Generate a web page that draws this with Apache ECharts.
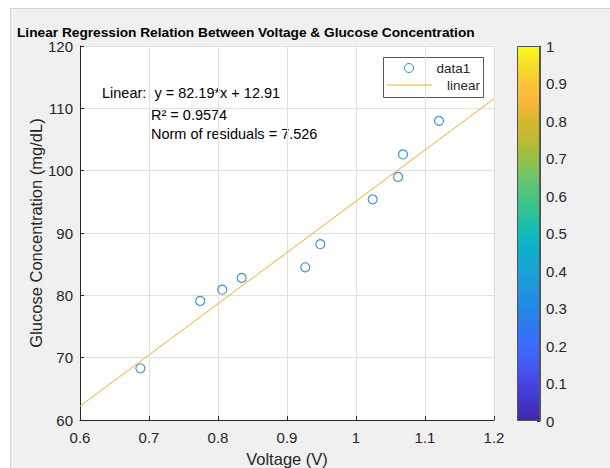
<!DOCTYPE html>
<html>
<head>
<meta charset="utf-8">
<script src="https://cdn.jsdelivr.net/npm/echarts@6/dist/echarts.min.js"></script>
<style>
  html, body { margin: 0; padding: 0; background: #ffffff; overflow: hidden; }
  #frame { position: absolute; left: 10px; top: 8px; width: 600px; height: 460px;
           background: #f0f0f0; border-left: 1px solid #d4d4d4; border-top: 1px solid #d4d4d4; }
  #chart { position: absolute; left: 0; top: 0; width: 610px; height: 468px; }
</style>
</head>
<body>
<div id="frame"></div>
<div id="chart"></div>
<script>
// ---- data ----
const voltage = [0.6875, 0.7742, 0.8062, 0.8343, 0.9265, 0.9483, 1.0242, 1.0609, 1.0681, 1.1203];
const glucose = [68.3, 79.1, 80.9, 82.8, 84.5, 88.2, 95.4, 99.0, 102.6, 108.0];
const fitX = [0.6, 1.2];
const fitY = [62.22, 111.54];
const colorbarTicks = [0, 0.1, 0.2, 0.3, 0.4, 0.5, 0.6, 0.7, 0.8, 0.9, 1];
const parulaStops = [
  [0.00, '#3d26a8'], [0.05, '#4236c8'], [0.10, '#4646e2'], [0.15, '#4559f2'],
  [0.20, '#3a6cfc'], [0.25, '#2e78f0'], [0.30, '#2486e5'], [0.35, '#2194de'],
  [0.40, '#1aa2d8'], [0.45, '#10adcb'], [0.50, '#0fbbba'], [0.55, '#2cc29c'],
  [0.60, '#48c57e'], [0.65, '#6dc56a'], [0.70, '#93c043'], [0.75, '#bdbb34'],
  [0.80, '#d4b82c'], [0.85, '#fbb53c'], [0.90, '#fac337'], [0.95, '#f6de26'],
  [1.00, '#f9fb15']
];
const titleText = 'Linear Regression Relation Between Voltage & Glucose Concentration';
const eqLines = ['Linear:  y = 82.19*x + 12.91', 'R\u00B2 = 0.9574', 'Norm of residuals = 7.526'];

const FONT = '"Liberation Sans", Arial, Helvetica, sans-serif';
const AX = '#262626';

const chart = echarts.init(document.getElementById('chart'), null, { renderer: 'svg' });
chart.setOption({
  backgroundColor: 'transparent',
  animation: false,
  textStyle: { fontFamily: FONT },
  title: {
    text: titleText, left: 17, top: 25, padding: 0,
    textStyle: { fontFamily: FONT, fontSize: 13.7, fontWeight: 'bold', color: '#000' }
  },
  legend: [
    {
      left: 404, top: 61, orient: 'vertical', padding: 0,
      itemWidth: 45, itemHeight: 9,
      itemStyle: { borderWidth: 1 },
      textStyle: { fontFamily: FONT, fontSize: 13.5, color: AX },
      data: ['data1']
    },
    {
      left: 387, top: 78, orient: 'vertical', padding: 0,
      itemWidth: 45, itemHeight: 1,
      textStyle: { fontFamily: FONT, fontSize: 13.5, color: AX, padding: [0, 0, 0, 10] },
      data: [{ name: 'linear', icon: 'rect' }]
    }
  ],
  grid: [
    { left: 80, right: 116, top: 46, bottom: 48, show: true, backgroundColor: '#fff', borderWidth: 0,
      outerBoundsMode: 'none', containLabel: false },
    { left: 517, width: 23, top: 46, height: 375, show: false, outerBoundsMode: 'none', containLabel: false }
  ],
  xAxis: [
    {
      gridIndex: 0, type: 'value', min: 0.6, max: 1.2, interval: 0.1,
      name: 'Voltage (V)', nameLocation: 'middle', nameGap: 30, nameMoveOverlap: false,
      nameTextStyle: { fontFamily: FONT, fontSize: 16.5, color: AX },
      axisLine: { show: true, onZero: false, lineStyle: { color: AX, width: 1 } },
      axisTick: { show: true, inside: true, length: 4, lineStyle: { color: AX } },
      axisLabel: { fontFamily: FONT, fontSize: 15, color: AX, margin: 10,
                   formatter: v => String(parseFloat(v.toFixed(2))) },
      splitLine: { show: true, lineStyle: { color: '#e0e0e0', width: 1 } }
    },
    {
      gridIndex: 1, type: 'category', data: [''], show: false, boundaryGap: true
    }
  ],
  yAxis: [
    {
      gridIndex: 0, type: 'value', min: 60, max: 120, interval: 10,
      name: 'Glucose Concentration (mg/dL)', nameLocation: 'middle', nameGap: 36, nameMoveOverlap: false,
      nameTextStyle: { fontFamily: FONT, fontSize: 16.5, color: AX },
      axisLine: { show: true, onZero: false, lineStyle: { color: AX, width: 1 } },
      axisTick: { show: true, inside: true, length: 4, lineStyle: { color: AX } },
      axisLabel: { fontFamily: FONT, fontSize: 15, color: AX, margin: 7 },
      splitLine: { show: true, lineStyle: { color: '#e0e0e0', width: 1 } }
    },
    {
      gridIndex: 1, type: 'value', min: colorbarTicks[0], max: colorbarTicks[colorbarTicks.length - 1],
      interval: 0.1, position: 'right',
      axisLine: { show: true, lineStyle: { color: '#555', width: 1 } },
      axisTick: { show: true, inside: true, length: 3, lineStyle: { color: AX } },
      axisLabel: { fontFamily: FONT, fontSize: 15, color: AX, margin: 6 },
      splitLine: { show: false }
    }
  ],
  series: [
    {
      name: 'data1', type: 'scatter', xAxisIndex: 0, yAxisIndex: 0,
      symbol: 'circle', symbolSize: 9,
      itemStyle: { color: 'rgba(255,255,255,0)', borderColor: '#0072BD', borderWidth: 1.1 },
      data: voltage.map((v, i) => [v, glucose[i]]),
      z: 2
    },
    {
      name: 'linear', type: 'line', xAxisIndex: 0, yAxisIndex: 0,
      symbol: 'none', showSymbol: false,
      lineStyle: { color: '#EDB120', width: 1 },
      itemStyle: { color: '#EDB120' },
      data: fitX.map((v, i) => [v, fitY[i]]),
      z: 3
    },
    {
      name: 'colorbar', type: 'bar', xAxisIndex: 1, yAxisIndex: 1,
      barWidth: '100%', silent: true,
      itemStyle: {
        borderColor: '#555', borderWidth: 1,
        color: {
          type: 'linear', x: 0, y: 1, x2: 0, y2: 0,
          colorStops: parulaStops.map(s => ({ offset: s[0], color: s[1] }))
        }
      },
      data: [colorbarTicks[colorbarTicks.length - 1]],
      z: 1
    }
  ],
  graphic: [
    { type: 'rect', left: 383, top: 57, z: 0, zlevel: 0,
      shape: { width: 100, height: 40 },
      style: { fill: '#fff', stroke: '#555', lineWidth: 1 } },
    { type: 'text', left: 102, top: 85, style: { text: eqLines[0], font: '14.5px ' + FONT, fill: '#000' } },
    { type: 'text', left: 151, top: 107, style: { text: eqLines[1], font: '14.5px ' + FONT, fill: '#000' } },
    { type: 'text', left: 151, top: 126, style: { text: eqLines[2], font: '14.5px ' + FONT, fill: '#000' } }
  ]
});
</script>
</body>
</html>
